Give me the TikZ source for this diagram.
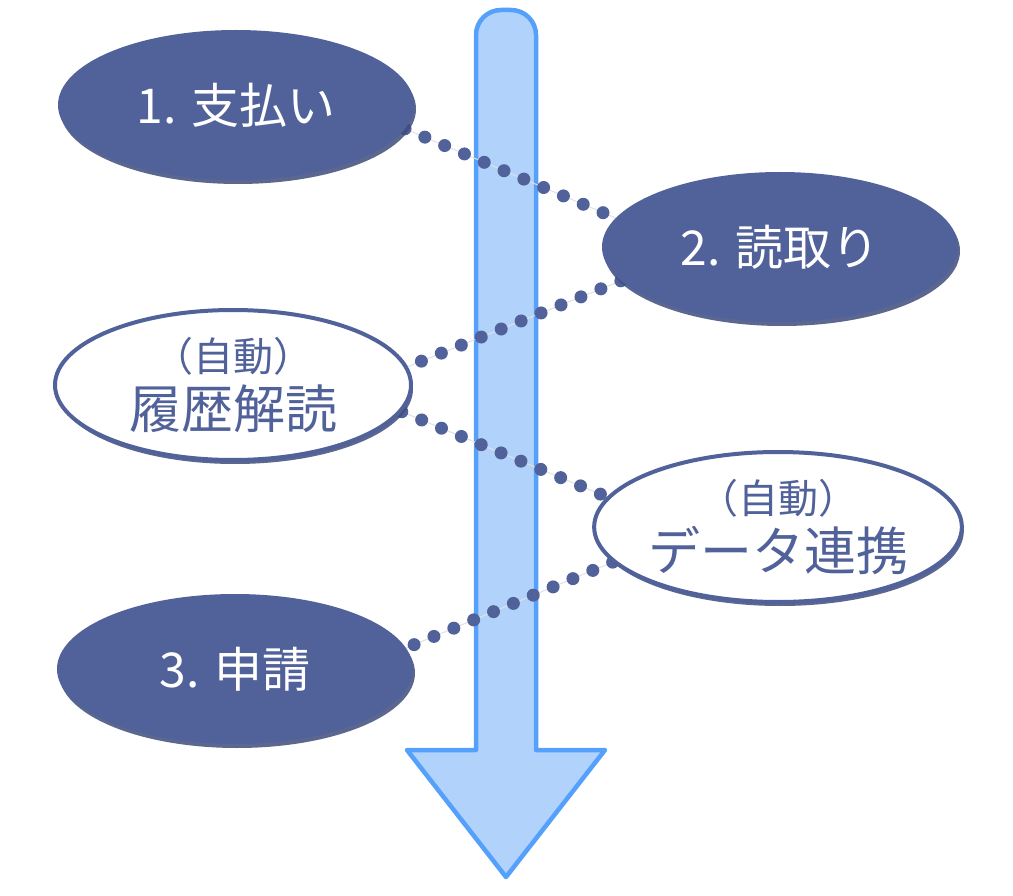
\documentclass[tikz,border=0pt]{standalone}
\usepackage{fontspec}
\setmainfont{Noto Sans CJK JP}
\usepackage{xcolor}
\usetikzlibrary{shapes}
\usetikzlibrary{shadows}
\usetikzlibrary{backgrounds}
\definecolor{navy}{RGB}{81,98,154}
\definecolor{navyshadow}{RGB}{62,76,122}
\definecolor{arrowline}{RGB}{85,160,250}
\definecolor{arrowfill}{RGB}{177,211,251}
\definecolor{linkgray}{RGB}{225,225,225}

\begin{document}
\begin{tikzpicture}[x=1pt, y=-1pt] %1pt = 1px der Vorlage, y nach unten
\tikzstyle{every node} = [ellipse, minimum width=356pt, minimum height=150pt, inner sep=0pt, align=center,
  drop shadow={shadow xshift=2pt, shadow yshift=-4pt, fill=navyshadow, opacity=.85}]
\tikzstyle{stepfull} = [fill=navy, text=white, font=\fontsize{48}{56}\selectfont]
\tikzstyle{stepauto} = [draw=navy, line width=4pt, fill=white, text=navy]
\tikzstyle{dotlink} = [draw=navy, line width=13pt, line cap=round, dash pattern=on 0pt off 21.5pt,
  preaction={draw=linkgray, line width=1pt, solid}]
\useasboundingbox (0,0) rectangle (1013,896);
% Pfeil im Hintergrund
\begin{scope}[on background layer]
\draw [draw=arrowline, fill=arrowfill, line width=4.5pt, line join=round]
  (476,400) [rounded corners=25pt] -- (476,10) -- (536,10) -- (536,400) [sharp corners]
  -- (536,750) -- (605,750) -- (506,877) -- (407,750) -- (476,750) -- cycle;
\end{scope}
\node [stepfull] (pay) at (236,105) {1. 支払い};
\node [stepfull] (scan) at (780,247) {2. 読取り};
\node [stepauto] (history) at (233,385) {\fontsize{40}{44}\selectfont （自動）\\[8pt]\fontsize{52}{56}\selectfont 履歴解読};
\node [stepauto] (datalink) at (778,527) {\fontsize{40}{44}\selectfont （自動）\\[8pt]\fontsize{52}{56}\selectfont データ連携};
\node [stepfull] (apply) at (235,669) {3. 申請};
\begin{scope}[on background layer]
\foreach \from/\to in {pay.-8/scan.170, scan.192/history.6, history.-9/datalink.170, datalink.192/apply.7}
\draw [dotlink] (\from) -- (\to);
\end{scope}
\end{tikzpicture}
\end{document}
